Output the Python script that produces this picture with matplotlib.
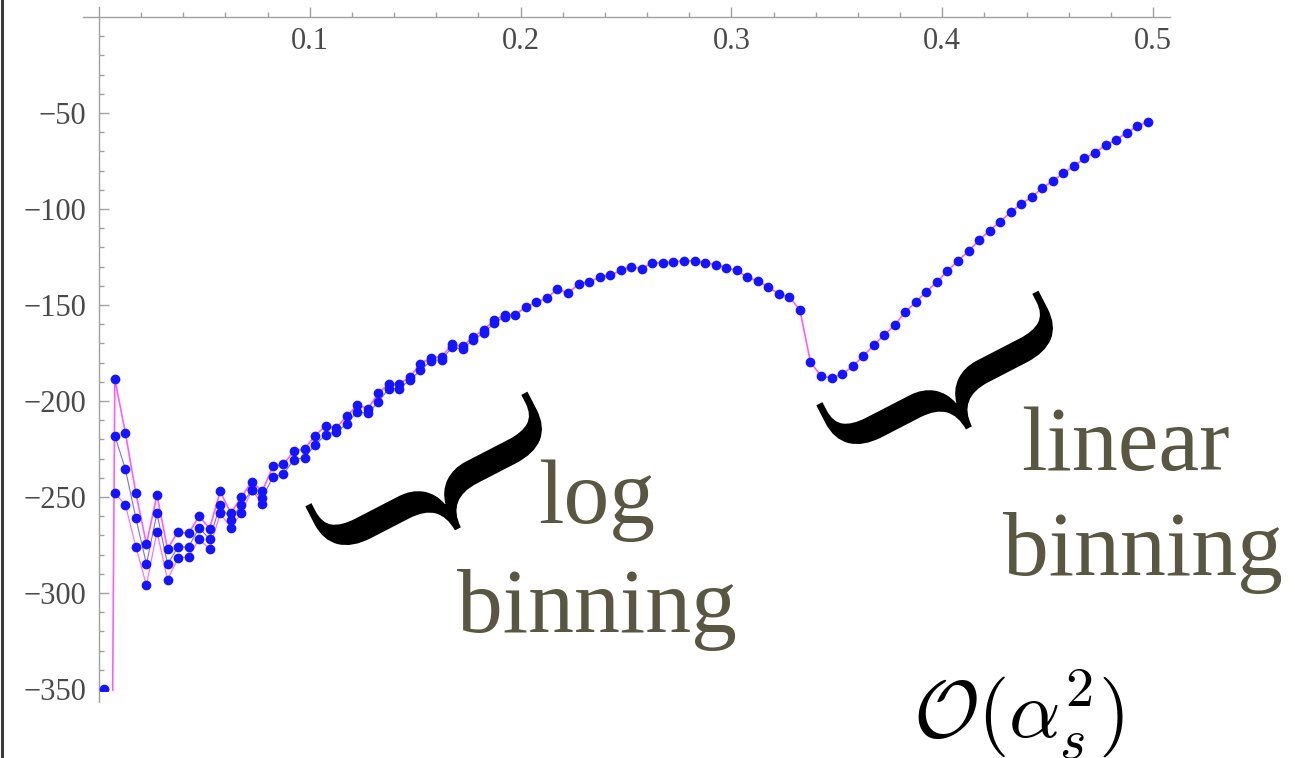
import matplotlib
matplotlib.use("Agg")
import matplotlib.pyplot as plt
import numpy as np
from matplotlib.font_manager import FontProperties
from matplotlib.lines import Line2D
from matplotlib.patches import PathPatch, Rectangle
from matplotlib.textpath import TextPath
from matplotlib.transforms import Affine2D
from matplotlib.ticker import FixedLocator

plt.rcParams["font.family"] = "Liberation Serif"

W, H = 1295, 758  # output size in pixels (dpi 100)

# 100 bins of width 0.005 between 0 and 0.5
bin_width = 0.005
x_bins = bin_width * (np.arange(100) + 0.5)

# main run, joined in magenta; the first bin lies far below the plotted range
main_y = [
    -1000, -188.5, -216.5, -248, -274.5, -249, -277, -268, -269, -260,
    -266.5, -247, -258.5, -250, -242, -247, -234, -233, -226, -225,
    -218, -213, -214, -208, -202, -204, -196, -191, -191, -187.5,
    -180.5, -177.5, -177, -170.5, -171.5, -166.5, -163, -158, -155, -155,
    -151, -148.5, -146.5, -141.5, -144, -139, -138, -135.5, -134.5, -132,
    -130, -131, -128, -128, -127.5, -127, -127, -128, -129, -130.5,
    -132, -135.5, -137.5, -140.6, -144.3, -145.8, -152.6, -179.7, -187, -188,
    -186, -182, -176.6, -171, -165.6, -160.4, -153.6, -148.4, -143, -138,
    -132.3, -127, -121.9, -116.3, -111.2, -106.6, -101.6, -97.4, -93.6, -89.2,
    -85.2, -81.4, -77.6, -73.6, -70.7, -66.7, -64, -60.3, -57, -54.5,
]

# second run, bins 1..38
run2_y = [
    -218, -235.5, -261, -285, -258.5, -285, -276, -276, -266, -272,
    -254, -262, -254, -246.5, -250.5, -239.5, -238, -230.5, -229.5, -223,
    -217.5, -216, -212, -205.5, -206.5, -200.5, -193.5, -193.5, -189, -184,
    -179, -178.5, -172, -173, -168, -164.5, -159.5, -156,
]

# third run, bins 1..15
run3_y = [
    -248, -254, -276, -296, -268, -293, -282, -281, -272, -277,
    -258.5, -266, -258.5, -246.5, -253.5,
]

# lone point sitting on the lower edge of the plot range
floor_x = [0.0025]
floor_y = [-350]

x_major = [0.1, 0.2, 0.3, 0.4, 0.5]
x_minor = np.arange(0.02, 0.5, 0.02)
y_major = [-350, -300, -250, -200, -150, -100, -50]
y_minor = np.arange(-350, 0, 10)

fig = plt.figure(figsize=(W / 100, H / 100), dpi=100)
ax = fig.add_axes([0, 0, 1, 1])

# axes origin sits at pixel (99, 17); 2108 px per unit in x, 1.92 px per unit in y
ax.set_xlim(-99 / 2108, (W - 99) / 2108)
ax.set_ylim(-(H - 17) / 1.92, 17 / 1.92)

clip = Rectangle((-0.1, -351), 1.0, 400, transform=ax.transData)

n2, n3 = len(run2_y), len(run3_y)
lines = []
lines += ax.plot(x_bins[1:n2 + 1], run2_y, color="#7a6cff", lw=0.8, zorder=2)
lines += ax.plot(x_bins[1:n3 + 1], run3_y, color="#ff70ff", lw=0.9, zorder=2)
lines += ax.plot(x_bins, main_y, color="#ff5cff", lw=1.2, zorder=3)
dot = dict(ls="none", marker="o", ms=7, mew=0, color="#1414ff", zorder=4)
lines += ax.plot(x_bins, main_y, **dot)
lines += ax.plot(x_bins[1:n2 + 1], run2_y, **dot)
lines += ax.plot(x_bins[1:n3 + 1], run3_y, **dot)
lines += ax.plot(floor_x, floor_y, **dot)
for ln in lines:
    ln.set_clip_path(clip)

# axes crossing at the origin, Mathematica style
for side in ("top", "right"):
    ax.spines[side].set_visible(False)
ax.spines["bottom"].set_position(("data", 0))
ax.spines["left"].set_position(("data", 0))
ax.spines["bottom"].set_bounds(-0.0075, 0.508)
ax.spines["left"].set_bounds(-357, 5)
for side in ("bottom", "left"):
    ax.spines[side].set_color("#a0a0a0")
    ax.spines[side].set_linewidth(1.0)

ax.xaxis.set_major_locator(FixedLocator(x_major))
ax.xaxis.set_minor_locator(FixedLocator(x_minor))
ax.yaxis.set_major_locator(FixedLocator(y_major))
ax.yaxis.set_minor_locator(FixedLocator(y_minor))
ax.tick_params(which="both", direction="in", color="#a0a0a0", width=1.0,
               labelsize=22, labelcolor="#4a4a4a")
ax.tick_params(which="major", length=7)
ax.tick_params(which="minor", length=3.5)
ax.tick_params(axis="x", pad=7)
ax.tick_params(axis="y", pad=9)
ax.patch.set_visible(False)

# dark frame edge on the left
fig.add_artist(Line2D([2 / W, 2 / W], [0, 1], transform=fig.transFigure,
                      color="#3a3a3a", lw=2.2))

# curly braces: a "}" glyph, slimmed and turned on its side
brace = TextPath((0, 0), "}", size=1, prop=FontProperties(family="Liberation Serif"))
ext = brace.get_extents()


def add_brace(cx, cy, length, depth, angle):
    tr = (Affine2D()
          .translate(-(ext.x0 + ext.x1) / 2, -(ext.y0 + ext.y1) / 2)
          .scale(depth / ext.width / 100, length / ext.height / 100)
          .rotate_deg(angle)
          .translate(cx / 100, (H - cy) / 100))
    fig.add_artist(PathPatch(tr.transform_path(brace), transform=fig.dpi_scale_trans,
                             facecolor="black", edgecolor="none"))


add_brace(437, 489, 250, 90, -62.7)
add_brace(948, 388, 250, 90, -62.7)

label_color = "#595741"
label_size = 66


def put(text, cx, base):
    fig.text(cx / W, 1 - base / H, text, ha="center", va="baseline",
             fontsize=label_size, color=label_color)


put("log", 597, 523)
put("binning", 597, 632)
put("linear", 1125, 470)
put("binning", 1143, 575)

fig.text(913 / W, 1 - 738 / H, r"$\mathcal{O}(\alpha_s^2)$", ha="left",
         va="baseline", fontsize=58, math_fontfamily="cm", color="black")

fig.savefig("out.png", dpi=100)
